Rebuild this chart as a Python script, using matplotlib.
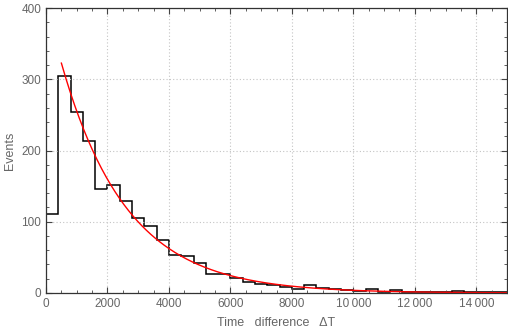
import matplotlib
matplotlib.use("Agg")
import matplotlib.pyplot as plt
from matplotlib.ticker import MultipleLocator, FuncFormatter
import numpy as np

# histogram: bin width 400, left edges 0 .. 14800
bin_width = 400
counts = [111, 304, 254, 214, 146, 152, 129, 105, 94, 75,
          53, 52, 42, 27, 27, 21, 15, 13, 11, 8,
          6, 11, 7, 6, 4, 3, 5, 2, 4, 2,
          1, 1, 1, 3, 1, 1, 1, 1]

# exponential fit drawn over the histogram
fit_amp = 408.0
fit_tau = 2130.0
fit_start, fit_end = 500, 15000

plt.rcParams.update({
    "font.family": ["Liberation Sans", "DejaVu Sans"],
    "font.size": 8.5,
})

GRAY = "#666666"

fig = plt.figure(figsize=(5.08, 3.34), dpi=100)
ax = fig.add_axes([0.0906, 0.1228, 0.9074, 0.8532])

edges = np.arange(len(counts) + 1) * bin_width
ax.stairs(counts, edges, color="black", lw=1.1, baseline=0)

xf = np.linspace(fit_start, fit_end, 400)
ax.plot(xf, fit_amp * np.exp(-xf / fit_tau), color="red", lw=1.0)

ax.set_xlim(0, 15000)
ax.set_ylim(0, 400)
ax.xaxis.set_major_locator(MultipleLocator(2000))
ax.xaxis.set_minor_locator(MultipleLocator(500))
ax.yaxis.set_major_locator(MultipleLocator(100))
ax.yaxis.set_minor_locator(MultipleLocator(20))


def fmt_x(v, _):
    v = int(round(v))
    if v >= 10000:
        return f"{v // 1000}\u2009{v % 1000:03d}"
    return str(v)


ax.xaxis.set_major_formatter(FuncFormatter(fmt_x))
ax.grid(True, which="major", color="#c4c4c4", linestyle=(0, (1, 2)), lw=0.8)
ax.tick_params(which="both", direction="in", colors="#444444", labelcolor=GRAY,
               top=True, right=True)
ax.tick_params(which="major", length=4, labelsize=8.5)
ax.tick_params(which="minor", length=2)
for s in ax.spines.values():
    s.set_color("#333333")
    s.set_linewidth(0.9)

ax.set_xlabel("Time   difference   \u0394T", color=GRAY, fontsize=9, labelpad=5)
ax.set_ylabel("Events", color=GRAY, fontsize=9, labelpad=4)

fig.savefig("out.png", dpi=100)
